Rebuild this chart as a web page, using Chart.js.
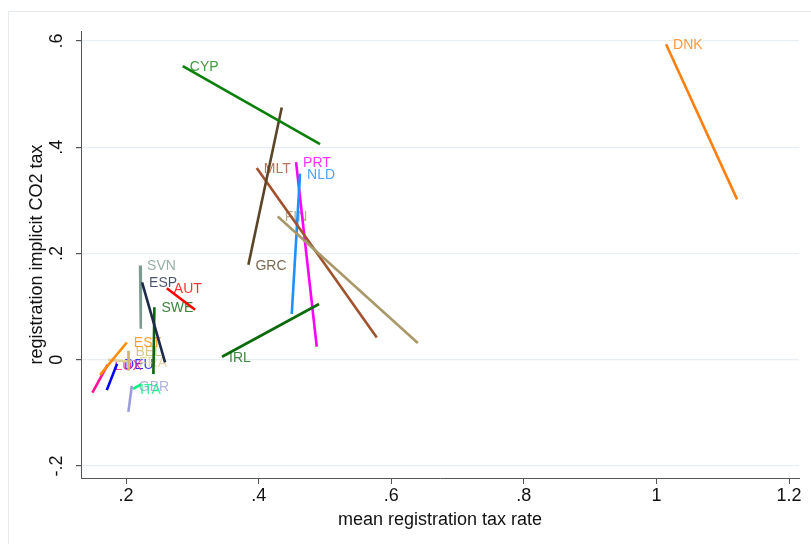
<!DOCTYPE html>
<html>
<head>
<meta charset="utf-8">
<script src="https://cdn.jsdelivr.net/npm/chart.js@4"></script>
<style>
  html, body { margin: 0; padding: 0; background: #ffffff; }
  #wrap { position: relative; width: 811px; height: 544px; }
  canvas { display: block; }
</style>
</head>
<body>
<div id="wrap"><canvas id="c" width="811" height="544"></canvas></div>
<script>
// Country fitted lines: each country runs from (xFrom, yFrom) to (xTo, yTo)
const countries = ['AUT','BEL','CYP','DEU','DNK','ESP','EST','FIN','FRA','GBR','GRC','IRL','ITA','LUX','MLT','NLD','PRT','SVN','SWE'];
const xFrom = [0.2614, 0.2035, 0.2855, 0.1864, 1.0145, 0.2241, 0.2011, 0.4288, 0.2090, 0.2086, 0.3845, 0.3448, 0.2106, 0.1721, 0.3971, 0.4624, 0.4564, 0.2211, 0.2427];
const yFrom = [0.1346, 0.0170, 0.5530, -0.0075, 0.5940, 0.1459, 0.0326, 0.2698, -0.0038, -0.0490, 0.1790, 0.0057, -0.0547, -0.0094, 0.3610, 0.3504, 0.3723, 0.1774, 0.0987];
const xTo   = [0.3041, 0.2038, 0.4926, 0.1709, 1.1216, 0.2588, 0.1608, 0.6400, 0.1729, 0.2035, 0.4348, 0.4911, 0.2226, 0.1492, 0.5781, 0.4499, 0.4876, 0.2222, 0.2412];
const yTo   = [0.0943, -0.0208, 0.4060, -0.0572, 0.3020, -0.0051, -0.0283, 0.0315, 0.0000, -0.0981, 0.4750, 0.1050, -0.0462, -0.0617, 0.0420, 0.0862, 0.0245, 0.0585, -0.0270];

// Axis ticks
const xTicks = [0.2, 0.4, 0.6, 0.8, 1, 1.2];
const xTickLabels = ['.2', '.4', '.6', '.8', '1', '1.2'];
const yTicks = [-0.2, 0, 0.2, 0.4, 0.6];
const yTickLabels = ['-.2', '0', '.2', '.4', '.6'];

const xTitle = 'mean registration tax rate';
const yTitle = 'registration implicit CO2 tax';

// Line colours per country
const palette = {
  AUT: '#ff0000', BEL: '#cdbb6a', CYP: '#0a7f0a', DEU: '#0000ff', DNK: '#ff7f0e',
  ESP: '#1f2a4a', EST: '#ff8c00', FIN: '#a8996a', FRA: '#ddd09c', GBR: '#9c9cdc',
  GRC: '#5a4526', IRL: '#0b6a0b', ITA: '#00f07a', LUX: '#ff1493', MLT: '#a0522d',
  NLD: '#1e90ff', PRT: '#ff00ff', SVN: '#7c9a90', SWE: '#0c640c'
};

const FONT = '"Liberation Sans", Arial, sans-serif';

const datasets = countries.map((c, i) => ({
  label: c,
  data: [{x: xFrom[i], y: yFrom[i]}, {x: xTo[i], y: yTo[i]}],
  showLine: true,
  borderColor: palette[c],
  backgroundColor: palette[c],
  borderWidth: 2.6,
  pointRadius: 0,
  pointHoverRadius: 0,
  borderCapStyle: 'butt'
}));

// Outer frame, country labels, rotated y tick labels and axis titles
const decor = {
  id: 'decor',
  beforeDraw(chart) {
    const ctx = chart.ctx;
    ctx.save();
    ctx.fillStyle = '#ffffff';
    ctx.fillRect(0, 0, chart.width, chart.height);
    ctx.strokeStyle = '#e6eaee';
    ctx.lineWidth = 1;
    ctx.beginPath();
    ctx.moveTo(8.5, chart.height);
    ctx.lineTo(8.5, 11.5);
    ctx.lineTo(chart.width, 11.5);
    ctx.stroke();
    ctx.restore();
  },
  beforeDatasetsDraw(chart) {
    const ctx = chart.ctx;
    const xs = chart.scales.x, ys = chart.scales.y;
    ctx.save();
    ctx.font = '14px ' + FONT;
    ctx.textBaseline = 'middle';
    ctx.textAlign = 'left';
    ctx.globalAlpha = 0.8;
    countries.forEach((c, i) => {
      ctx.fillStyle = palette[c];
      ctx.fillText(c, xs.getPixelForValue(xFrom[i]) + 7, ys.getPixelForValue(yFrom[i]) + 1);
    });
    ctx.restore();
  },
  afterDraw(chart) {
    const ctx = chart.ctx;
    const ys = chart.scales.y;
    const area = chart.chartArea;
    ctx.save();
    ctx.fillStyle = '#111111';
    ctx.font = '18px ' + FONT;
    ctx.textAlign = 'center';
    ctx.textBaseline = 'middle';
    yTicks.forEach((v, i) => {
      const py = ys.getPixelForValue(v);
      ctx.save();
      ctx.translate(57, py);
      ctx.rotate(-Math.PI / 2);
      ctx.fillText(yTickLabels[i], 0, 0);
      ctx.restore();
    });
    ctx.save();
    ctx.translate(37, (area.top + area.bottom) / 2);
    ctx.rotate(-Math.PI / 2);
    ctx.fillText(yTitle, 0, 0);
    ctx.restore();
    ctx.fillText(xTitle, (area.left + area.right) / 2, 520);
    ctx.restore();
  }
};

new Chart(document.getElementById('c'), {
  type: 'scatter',
  data: { datasets },
  options: {
    responsive: false,
    animation: false,
    devicePixelRatio: 1,
    layout: { padding: { top: 31, right: 12, left: 0, bottom: 0 } },
    plugins: { legend: { display: false }, tooltip: { enabled: false } },
    scales: {
      x: {
        type: 'linear',
        min: 0.132,
        max: 1.215,
        afterBuildTicks(scale) { scale.ticks = xTicks.map(v => ({ value: v })); },
        afterFit(scale) { scale.height = 66; },
        ticks: {
          callback: (v) => xTickLabels[xTicks.findIndex(t => Math.abs(t - v) < 1e-9)],
          color: '#111111',
          font: { family: FONT, size: 18 },
          padding: 1,
          maxRotation: 0,
          minRotation: 0
        },
        grid: { drawOnChartArea: false, drawTicks: true, tickLength: 6, tickColor: '#555555', color: '#555555' },
        border: { display: true, color: '#555555', width: 1 }
      },
      y: {
        type: 'linear',
        min: -0.2226,
        max: 0.619,
        afterBuildTicks(scale) { scale.ticks = yTicks.map(v => ({ value: v })); },
        afterFit(scale) { scale.width = 81; },
        ticks: {
          callback: (v) => yTickLabels[yTicks.findIndex(t => Math.abs(t - v) < 1e-9)],
          color: 'rgba(0,0,0,0)',
          font: { family: FONT, size: 16 }
        },
        grid: { drawOnChartArea: true, drawTicks: true, tickLength: 5, tickColor: '#555555', color: '#e8eef1', lineWidth: 1.2 },
        border: { display: true, color: '#555555', width: 1 }
      }
    }
  },
  plugins: [decor]
});
</script>
</body>
</html>
